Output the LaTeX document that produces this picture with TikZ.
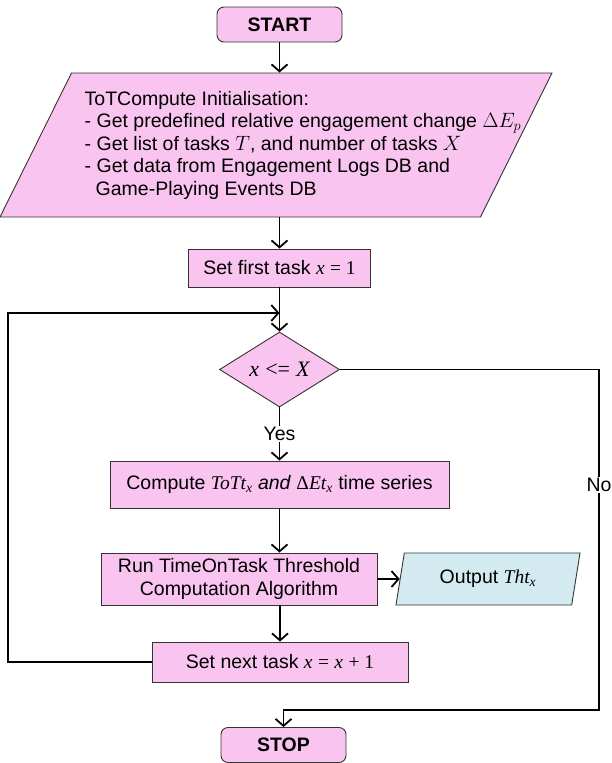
\documentclass[tikz,border=0pt]{standalone}
\usepackage{fontspec}
\setmainfont{Liberation Sans}
\newfontfamily\tms{Liberation Serif}
\usetikzlibrary{arrows,arrows.meta,shapes,shapes.geometric,positioning}
\definecolor{tpink}{RGB}{249,197,240}
\definecolor{tblue}{RGB}{211,235,240}
\newcommand{\FS}{\fontsize{19.5pt}{22.5pt}\selectfont}
\newcommand{\tmi}[1]{{\tms\itshape #1}}
\newcommand{\tmr}[1]{{\tms #1}}
\tikzstyle{aS}=[every edge/.style={draw,->,>={Straight Barb[length=7pt,width=16pt]},line width=1.8pt}]
\tikzstyle{aL}=[draw,->,>={Straight Barb[length=7pt,width=16pt]},line width=1.8pt]
\tikzstyle{Aterm}=[draw=black!80,line width=0.9pt,fill=tpink,rounded corners=7pt,minimum width=125pt,minimum height=35pt,inner sep=0,font=\FS\bfseries]
\tikzstyle{Aproc}=[draw=black!80,line width=0.9pt,fill=tpink,inner sep=0]
\tikzstyle{Adec}=[draw=black!80,line width=0.9pt,fill=tpink,diamond,aspect=1.6,minimum width=120pt,minimum height=75pt,inner sep=0,font=\fontsize{22pt}{24pt}\selectfont]
\tikzstyle{Aio}=[draw=black!80,line width=0.9pt,fill=tpink,trapezium,trapezium left angle=63.6,trapezium right angle=116.4,inner xsep=204.5pt,inner ysep=72pt]
\tikzstyle{Aout}=[draw=black!80,line width=0.9pt,fill=tblue,trapezium,trapezium left angle=69,trapezium right angle=111,trapezium stretches body=true,minimum width=184pt,minimum height=52pt,inner sep=2pt]
\tikzstyle{lbl}=[fill=white,inner sep=1pt]

\begin{document}
\begin{tikzpicture}[aS,x=1pt,y=1pt,font=\FS]
  \useasboundingbox (0,0) rectangle (611,-763);
  \node[Aterm] (start) at (279.5,-24.5) {START};
  \node[Aio, below of=start, node distance=120.5pt, xshift=-3.5pt] (init) {};
  \node[anchor=west, align=left, inner sep=0] (initTxt) at ([xshift=-191.5pt]init.center)
    {ToTCompute Initialisation:\\
     - Get predefined relative engagement change $\Delta E_p$\\
     - Get list of tasks $T$, and number of tasks $X$\\
     - Get data from Engagement Logs DB and\\
     \hspace*{11pt}Game-Playing Events DB};
  \node[Aproc, minimum width=182pt, minimum height=38pt, below of=start, node distance=243.5pt] (first)
    {Set first task \tmi{x} \tmr{= 1}};
  \coordinate[below of=first, node distance=45pt] (join);
  \node[Adec, below of=first, node distance=101.5pt] (cond) {\tmi{x} \tmr{<=} \tmi{X}};
  \node[Aproc, minimum width=339pt, minimum height=47pt, below of=cond, node distance=115pt] (comp)
    {Compute \tmi{ToTt}\textsubscript{\tmi{x}} \textit{and} \tmr{Δ}\tmi{Et}\textsubscript{\tmi{x}} time series};
  \node[Aproc, minimum width=276pt, minimum height=52pt, align=center, below of=comp, node distance=94.5pt, xshift=-40.5pt] (run)
    {Run TimeOnTask Threshold\\Computation Algorithm};
  \node[Aout, right of=run, node distance=249pt] (out) {Output \tmi{Tht}\textsubscript{\tmi{x}}};
  \node[Aproc, minimum width=256pt, minimum height=40pt, below of=run, node distance=83pt, xshift=41pt] (next)
    {Set next task \tmi{x} \tmr{=} \tmi{x} \tmr{+ 1}};
  \node[Aterm, below of=next, node distance=83pt, xshift=3.5pt] (stop) {STOP};
  \coordinate (back) at (8,-313);
  \coordinate (noR) at (599,-369.5);
  \coordinate (noB) at (599,-710);
  \path (start) edge (start.south |- init.north)
        (first.north |- init.south) edge (first)
        (first) edge (cond)
        (cond) edge node[lbl]{Yes} (comp)
        (comp.south) edge (comp.south |- run.north)
        (run) edge (out)
        (next.north |- run.south) edge (next.north);
  \draw[aL] (next.west) -| (back) -- (join);
  \draw[aL] (cond.east) -- (noR) -- node[lbl,pos=0.34]{No} (noB) -| (stop.north);
\end{tikzpicture}
\end{document}
